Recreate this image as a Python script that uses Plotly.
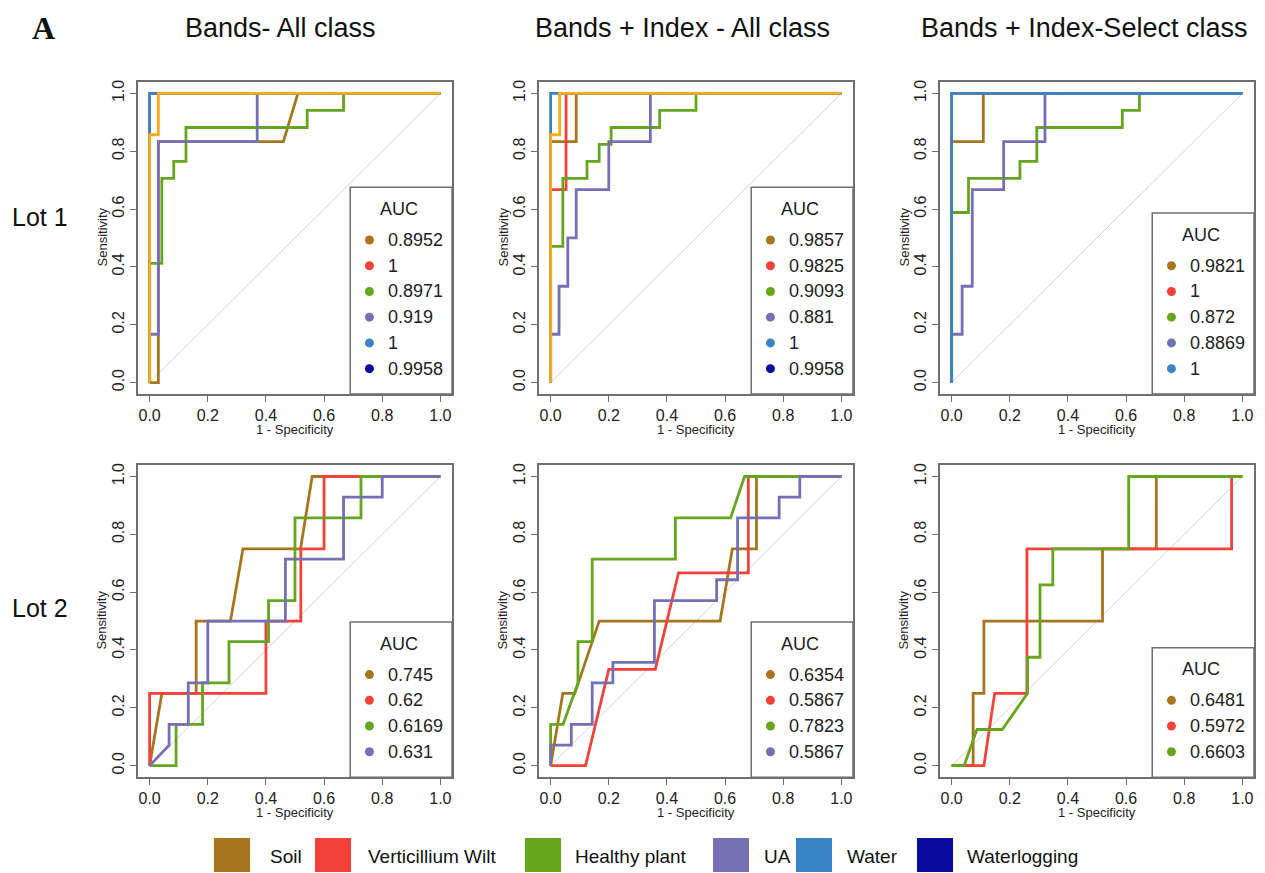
import plotly.graph_objects as go

# ---------------- data ----------------
CLASSES = ["Soil", "Verticillium Wilt", "Healthy plant", "UA", "Water", "Waterlogging"]
CLASS_COLORS = ["#A6761D", "#F2423A", "#66A61E", "#7570B3", "#3A84C6", "#0A0A9C"]
LINE_COLORS = ["#A6761D", "#F2423A", "#66A61E", "#7570B3", "#3A84C6", "#F5AB1E"]
COL_TITLES = ["Bands- All class", "Bands + Index - All class", "Bands + Index-Select class"]
ROW_LABELS = ["Lot 1", "Lot 2"]
TICK_VALS = [0, 0.2, 0.4, 0.6, 0.8, 1.0]
TICK_TEXT = ["0.0", "0.2", "0.4", "0.6", "0.8", "1.0"]

# Lot 1 - Bands, all classes (1 - specificity, sensitivity)
l1a_soil_fpr = [0, 0.03, 0.03, 0.46, 0.51, 1]
l1a_soil_tpr = [0, 0, 0.833, 0.833, 1, 1]
l1a_vw_fpr = [0, 0, 1]
l1a_vw_tpr = [0, 1, 1]
l1a_hp_fpr = [0, 0, 0.042, 0.042, 0.083, 0.083, 0.125, 0.125, 0.542, 0.542, 0.667, 0.667, 1]
l1a_hp_tpr = [0, 0.412, 0.412, 0.706, 0.706, 0.765, 0.765, 0.882, 0.882, 0.941, 0.941, 1, 1]
l1a_ua_fpr = [0, 0, 0.03, 0.03, 0.37, 0.37, 1]
l1a_ua_tpr = [0, 0.167, 0.167, 0.833, 0.833, 1, 1]
l1a_wat_fpr = [0, 0, 1]
l1a_wat_tpr = [0, 1, 1]
l1a_wlog_fpr = [0, 0, 0.03, 0.03, 1]
l1a_wlog_tpr = [0, 0.857, 0.857, 1, 1]
l1a_auc = ["0.8952", "1", "0.8971", "0.919", "1", "0.9958"]

# Lot 1 - Bands + Index, all classes
l1b_soil_fpr = [0, 0, 0.088, 0.088, 1]
l1b_soil_tpr = [0, 0.833, 0.833, 1, 1]
l1b_vw_fpr = [0, 0, 0.053, 0.053, 1]
l1b_vw_tpr = [0, 0.667, 0.667, 1, 1]
l1b_hp_fpr = [0, 0, 0.042, 0.042, 0.125, 0.125, 0.167, 0.167, 0.208, 0.208, 0.375, 0.375, 0.5, 0.5, 1]
l1b_hp_tpr = [0, 0.471, 0.471, 0.706, 0.706, 0.765, 0.765, 0.824, 0.824, 0.882, 0.882, 0.941, 0.941, 1, 1]
l1b_ua_fpr = [0, 0, 0.029, 0.029, 0.059, 0.059, 0.088, 0.088, 0.2, 0.2, 0.343, 0.343, 1]
l1b_ua_tpr = [0, 0.167, 0.167, 0.333, 0.333, 0.5, 0.5, 0.667, 0.667, 0.833, 0.833, 1, 1]
l1b_wat_fpr = [0, 0, 1]
l1b_wat_tpr = [0, 1, 1]
l1b_wlog_fpr = [0, 0, 0.031, 0.031, 1]
l1b_wlog_tpr = [0, 0.857, 0.857, 1, 1]
l1b_auc = ["0.9857", "0.9825", "0.9093", "0.881", "1", "0.9958"]

# Lot 1 - Bands + Index, selected classes
l1c_soil_fpr = [0, 0, 0.109, 0.109, 1]
l1c_soil_tpr = [0, 0.833, 0.833, 1, 1]
l1c_vw_fpr = [0, 0, 1]
l1c_vw_tpr = [0, 1, 1]
l1c_hp_fpr = [0, 0, 0.058, 0.058, 0.235, 0.235, 0.293, 0.293, 0.587, 0.587, 0.646, 0.646, 1]
l1c_hp_tpr = [0, 0.588, 0.588, 0.706, 0.706, 0.765, 0.765, 0.882, 0.882, 0.941, 0.941, 1, 1]
l1c_ua_fpr = [0, 0, 0.036, 0.036, 0.071, 0.071, 0.179, 0.179, 0.321, 0.321, 1]
l1c_ua_tpr = [0, 0.167, 0.167, 0.333, 0.333, 0.667, 0.667, 0.833, 0.833, 1, 1]
l1c_wat_fpr = [0, 0, 1]
l1c_wat_tpr = [0, 1, 1]
l1c_auc = ["0.9821", "1", "0.872", "0.8869", "1"]

# Lot 2 - Bands, all classes
l2a_soil_fpr = [0, 0.042, 0.16, 0.16, 0.278, 0.321, 0.519, 0.559, 1]
l2a_soil_tpr = [0, 0.25, 0.25, 0.5, 0.5, 0.75, 0.75, 1, 1]
l2a_vw_fpr = [0, 0, 0.4, 0.4, 0.52, 0.52, 0.6, 0.6, 1]
l2a_vw_tpr = [0, 0.25, 0.25, 0.5, 0.5, 0.75, 0.75, 1, 1]
l2a_hp_fpr = [0, 0.091, 0.091, 0.182, 0.182, 0.273, 0.273, 0.409, 0.409, 0.5, 0.5, 0.727, 0.727, 1]
l2a_hp_tpr = [0, 0, 0.143, 0.143, 0.286, 0.286, 0.429, 0.429, 0.571, 0.571, 0.857, 0.857, 1, 1]
l2a_ua_fpr = [0, 0.067, 0.067, 0.133, 0.133, 0.2, 0.2, 0.467, 0.467, 0.667, 0.667, 0.8, 0.8, 1]
l2a_ua_tpr = [0, 0.071, 0.143, 0.143, 0.286, 0.286, 0.5, 0.5, 0.714, 0.714, 0.929, 0.929, 1, 1]
l2a_auc = ["0.745", "0.62", "0.6169", "0.631"]

# Lot 2 - Bands + Index, all classes
l2b_soil_fpr = [0, 0.042, 0.083, 0.167, 0.583, 0.625, 0.708, 0.708, 1]
l2b_soil_tpr = [0, 0.25, 0.25, 0.5, 0.5, 0.75, 0.75, 1, 1]
l2b_vw_fpr = [0, 0.12, 0.2, 0.36, 0.44, 0.68, 0.68, 1]
l2b_vw_tpr = [0, 0, 0.333, 0.333, 0.667, 0.667, 1, 1]
l2b_hp_fpr = [0, 0, 0.043, 0.094, 0.094, 0.143, 0.143, 0.429, 0.429, 0.619, 0.667, 1]
l2b_hp_tpr = [0, 0.143, 0.143, 0.286, 0.429, 0.429, 0.714, 0.714, 0.857, 0.857, 1, 1]
l2b_ua_fpr = [0, 0, 0.071, 0.071, 0.143, 0.143, 0.214, 0.214, 0.357, 0.357, 0.571, 0.571,
              0.643, 0.643, 0.786, 0.786, 0.857, 0.857, 1]
l2b_ua_tpr = [0, 0.071, 0.071, 0.143, 0.143, 0.286, 0.286, 0.357, 0.357, 0.571, 0.571, 0.643,
              0.643, 0.857, 0.857, 0.929, 0.929, 1, 1]
l2b_auc = ["0.6354", "0.5867", "0.7823", "0.5867"]

# Lot 2 - Bands + Index, selected classes
l2c_soil_fpr = [0, 0.074, 0.074, 0.111, 0.111, 0.519, 0.519, 0.704, 0.704, 1]
l2c_soil_tpr = [0, 0, 0.25, 0.25, 0.5, 0.5, 0.75, 0.75, 1, 1]
l2c_vw_fpr = [0, 0.111, 0.148, 0.259, 0.259, 0.963, 0.963, 1]
l2c_vw_tpr = [0, 0, 0.25, 0.25, 0.75, 0.75, 1, 1]
l2c_hp_fpr = [0, 0.043, 0.087, 0.174, 0.261, 0.261, 0.304, 0.304, 0.348, 0.348, 0.609, 0.609, 1]
l2c_hp_tpr = [0, 0, 0.125, 0.125, 0.25, 0.375, 0.375, 0.625, 0.625, 0.75, 0.75, 1, 1]
l2c_auc = ["0.6481", "0.5972", "0.6603"]

PANELS = [
    [(l1a_soil_fpr, l1a_soil_tpr), (l1a_vw_fpr, l1a_vw_tpr), (l1a_hp_fpr, l1a_hp_tpr),
     (l1a_ua_fpr, l1a_ua_tpr), (l1a_wat_fpr, l1a_wat_tpr), (l1a_wlog_fpr, l1a_wlog_tpr)],
    [(l1b_soil_fpr, l1b_soil_tpr), (l1b_vw_fpr, l1b_vw_tpr), (l1b_hp_fpr, l1b_hp_tpr),
     (l1b_ua_fpr, l1b_ua_tpr), (l1b_wat_fpr, l1b_wat_tpr), (l1b_wlog_fpr, l1b_wlog_tpr)],
    [(l1c_soil_fpr, l1c_soil_tpr), (l1c_vw_fpr, l1c_vw_tpr), (l1c_hp_fpr, l1c_hp_tpr),
     (l1c_ua_fpr, l1c_ua_tpr), (l1c_wat_fpr, l1c_wat_tpr)],
    [(l2a_soil_fpr, l2a_soil_tpr), (l2a_vw_fpr, l2a_vw_tpr), (l2a_hp_fpr, l2a_hp_tpr),
     (l2a_ua_fpr, l2a_ua_tpr)],
    [(l2b_soil_fpr, l2b_soil_tpr), (l2b_vw_fpr, l2b_vw_tpr), (l2b_hp_fpr, l2b_hp_tpr),
     (l2b_ua_fpr, l2b_ua_tpr)],
    [(l2c_soil_fpr, l2c_soil_tpr), (l2c_vw_fpr, l2c_vw_tpr), (l2c_hp_fpr, l2c_hp_tpr)],
]
AUCS = [l1a_auc, l1b_auc, l1c_auc, l2a_auc, l2b_auc, l2c_auc]

# ---------------- layout ----------------
W, H = 1265, 873
FONT = "Liberation Sans, Arial, sans-serif"
BOX = "#6f6f6f"
COL_LEFT = [138, 539, 940]
ROW_TOP = [80, 464]
BOX_W, BOX_H = 314, 313
COL_TITLE_X = [280, 682, 1084]


def px(x):
    return x / W


def py(y):
    return 1 - y / H


fig = go.Figure()
annotations = []
shapes = []
layout = {}

for k, series in enumerate(PANELS):
    r, c = divmod(k, 3)
    xa = "x" if k == 0 else f"x{k + 1}"
    ya = "y" if k == 0 else f"y{k + 1}"
    xkey = "xaxis" if k == 0 else f"xaxis{k + 1}"
    ykey = "yaxis" if k == 0 else f"yaxis{k + 1}"
    x0, y0 = COL_LEFT[c], ROW_TOP[r]
    axis_common = dict(range=[-0.04, 1.04], tickvals=TICK_VALS, ticktext=TICK_TEXT,
                       showgrid=False, zeroline=False, showline=True, mirror=True,
                       linecolor=BOX, linewidth=1.5, ticks="outside", ticklen=6,
                       tickcolor=BOX, tickwidth=1.2,
                       tickfont=dict(family=FONT, size=16, color="#222"))
    layout[xkey] = dict(axis_common, domain=[px(x0), px(x0 + BOX_W)], anchor=ya)
    layout[ykey] = dict(axis_common, domain=[py(y0 + BOX_H), py(y0)], anchor=xa,
                        tickangle=-90)

    # diagonal reference
    fig.add_trace(go.Scatter(x=[0, 1], y=[0, 1], mode="lines", xaxis=xa, yaxis=ya,
                             line=dict(color="#d2d2d2", width=1), showlegend=False,
                             hoverinfo="skip"))
    for i, (fx, ty) in enumerate(series):
        fig.add_trace(go.Scatter(x=fx, y=ty, mode="lines", xaxis=xa, yaxis=ya,
                                 line=dict(color=LINE_COLORS[i], width=2.8),
                                 name=CLASSES[i], showlegend=False))

    # in-panel AUC legend
    n = len(AUCS[k])
    ys = [0.048 + (n - 1 - i) * 0.089 for i in range(n)]
    auc_y = ys[0] + 0.107
    top = auc_y + 0.075
    shapes.append(dict(type="rect", xref=xa, yref=ya, x0=0.69, x1=1.04, y0=-0.04, y1=top,
                       line=dict(color=BOX, width=1.5), fillcolor="white", layer="below"))
    fig.add_trace(go.Scatter(x=[0.756] * n, y=ys, mode="markers", xaxis=xa, yaxis=ya,
                             marker=dict(color=CLASS_COLORS[:n], size=9),
                             showlegend=False, hoverinfo="skip"))
    annotations.append(dict(x=0.859, y=auc_y, xref=xa, yref=ya, text="AUC", showarrow=False,
                            font=dict(family=FONT, size=18, color="#222"),
                            xanchor="center", yanchor="middle"))
    for i in range(n):
        annotations.append(dict(x=0.812, y=ys[i], xref=xa, yref=ya, text=AUCS[k][i],
                                showarrow=False, font=dict(family=FONT, size=18, color="#222"),
                                xanchor="left", yanchor="middle"))

    # axis titles
    annotations.append(dict(x=px(x0 + BOX_W / 2), y=py(y0 + BOX_H + 35), xref="paper",
                            yref="paper", text="1 - Specificity", showarrow=False,
                            font=dict(family=FONT, size=13, color="#222"),
                            xanchor="center", yanchor="middle"))
    annotations.append(dict(x=px(x0 - 36), y=py(y0 + BOX_H / 2 - 0.5), xref="paper",
                            yref="paper", text="Sensitivity", showarrow=False, textangle=-90,
                            font=dict(family=FONT, size=13, color="#222"),
                            xanchor="center", yanchor="middle"))

# column titles, row labels, panel letter
for c, t in enumerate(COL_TITLES):
    annotations.append(dict(x=px(COL_TITLE_X[c]), y=py(26), xref="paper", yref="paper",
                            text=t, showarrow=False,
                            font=dict(family=FONT, size=27, color="#111"),
                            xanchor="center", yanchor="middle"))
for r, t in enumerate(ROW_LABELS):
    annotations.append(dict(x=px(40), y=py([215, 607][r]), xref="paper", yref="paper",
                            text=t, showarrow=False,
                            font=dict(family=FONT, size=25, color="#111"),
                            xanchor="center", yanchor="middle"))
annotations.append(dict(x=px(43), y=py(26), xref="paper", yref="paper", text="<b>A</b>",
                        showarrow=False,
                        font=dict(family="Liberation Serif, Times New Roman, serif", size=32,
                                  color="#111"),
                        xanchor="center", yanchor="middle"))

# bottom class legend
SQ_LEFT = [214, 315, 525, 713, 796, 917]
TXT_LEFT = [268, 366, 573, 762, 845, 965]
for i, name in enumerate(CLASSES):
    shapes.append(dict(type="rect", xref="paper", yref="paper", x0=px(SQ_LEFT[i]),
                       x1=px(SQ_LEFT[i] + 36), y0=py(872), y1=py(838),
                       line=dict(width=0), fillcolor=CLASS_COLORS[i]))
    annotations.append(dict(x=px(TXT_LEFT[i]), y=py(856), xref="paper", yref="paper",
                            text=name, showarrow=False,
                            font=dict(family=FONT, size=19, color="#111"),
                            xanchor="left", yanchor="middle"))

fig.update_layout(width=W, height=H, margin=dict(l=0, r=0, t=0, b=0),
                  paper_bgcolor="white", plot_bgcolor="white",
                  annotations=annotations, shapes=shapes, showlegend=False, **layout)

fig.write_html("out.html")
